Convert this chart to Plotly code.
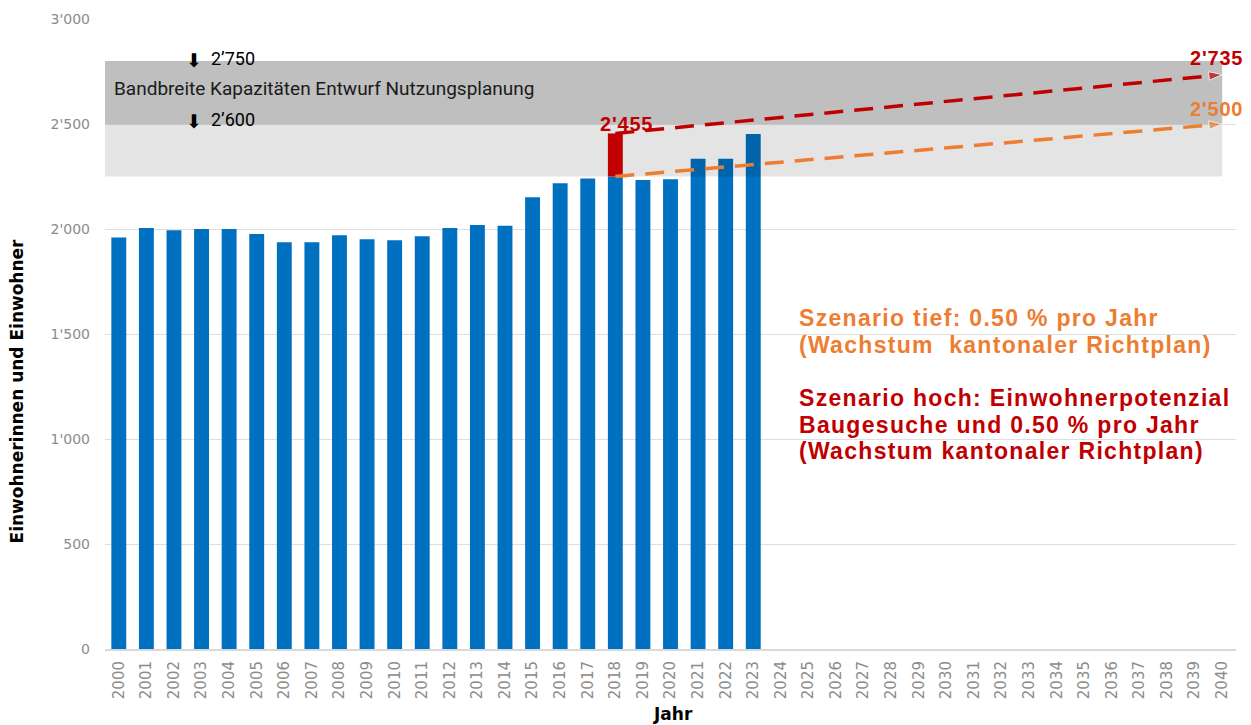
import plotly.graph_objects as go

# Einwohnerzahlen 2000-2023
years = list(range(2000, 2024))
population = [1960, 2005, 1994, 2000, 2000, 1976, 1937, 1937, 1970, 1951, 1946, 1965,
              2005, 2019, 2016, 2151, 2218, 2241, 2250, 2233, 2237, 2335, 2335, 2452]

axis_years = list(range(2000, 2041))

# Szenarien (Start 2018, Ende 2040)
scen_years = [2018, 2040]
scen_low = [2250, 2500]
scen_high = [2455, 2735]

# Bandbreite Kapazitäten
band_light = [2250, 2500]
band_dark = [2500, 2800]

y_ticks = [0, 500, 1000, 1500, 2000, 2500, 3000]
y_ticktext = ["0", "500", "1'000", "1'500", "2'000", "2'500", "3'000"]

scenario_low_lines = ["Szenario tief: 0.50 % pro Jahr", "(Wachstum  kantonaler Richtplan)"]
scenario_high_lines = ["Szenario hoch: Einwohnerpotenzial", "Baugesuche und 0.50 % pro Jahr",
                       "(Wachstum kantonaler Richtplan)"]

BLUE = "#0070c0"
RED = "#c00000"
RED_BAR = "#d80000"
ORANGE = "#ed7d31"
AXIS_FONT = "DejaVu Sans"
LABEL_FONT = "Liberation Sans"

fig = go.Figure()

fig.add_trace(go.Bar(x=years, y=population, marker=dict(color=BLUE, line=dict(width=0)),
                     width=0.54, hoverinfo="skip"))

# Zusatzpotenzial Baugesuche (2018)
fig.add_trace(go.Bar(x=[2018], y=[scen_high[0] - scen_low[0]], base=[scen_low[0]],
                     marker=dict(color=RED_BAR, line=dict(width=0)), width=0.54, hoverinfo="skip"))

x0, x1 = 1999.5, 2040
fig.add_trace(go.Scatter(x=[x0, x1, x1, x0, x0],
                         y=[band_dark[0], band_dark[0], band_dark[1], band_dark[1], band_dark[0]],
                         fill="toself", fillcolor="rgba(0,0,0,0.25)", mode="none", hoverinfo="skip"))
fig.add_trace(go.Scatter(x=[x0, x1, x1, x0, x0],
                         y=[band_light[0], band_light[0], band_light[1], band_light[1], band_light[0]],
                         fill="toself", fillcolor="rgba(0,0,0,0.105)", mode="none", hoverinfo="skip"))

for vals, col in [(scen_low, ORANGE), (scen_high, RED)]:
    fig.add_trace(go.Scatter(
        x=scen_years, y=vals, mode="lines+markers",
        line=dict(color=col, width=3.5, dash="19px,11px"),
        marker=dict(symbol=["circle", "arrow"], size=[10, 14], angleref="previous", color=col),
        hoverinfo="skip"))

PLOT_LEFT, PLOT_W = 105, 1131
PLOT_TOP, PLOT_H = 19, 630


def paper_y(py):
    """Vertical pixel position (from top of the page) -> paper coordinate."""
    return 1 - (py - PLOT_TOP) / PLOT_H


def spaced(txt, px=1.6):
    return "<span style='letter-spacing:%spx'>%s</span>" % (px, txt)


annotations = [
    dict(x=2040, y=scen_high[1], xref="x", yref="y", text="<b>%s</b>" % spaced("2'735", 0.8),
         showarrow=False, xanchor="right", yanchor="bottom", xshift=23, yshift=4,
         font=dict(family=LABEL_FONT, size=20, color=RED)),
    dict(x=2040, y=scen_low[1], xref="x", yref="y", text="<b>%s</b>" % spaced("2'500", 0.8),
         showarrow=False, xanchor="right", yanchor="bottom", xshift=23, yshift=2,
         font=dict(family=LABEL_FONT, size=20, color=ORANGE)),
    dict(x=2018, y=scen_high[0], xref="x", yref="y", text="<b>%s</b>" % spaced("2'455", 0.8),
         showarrow=False, xanchor="center", yanchor="bottom", xshift=11, yshift=-4,
         font=dict(family=LABEL_FONT, size=20, color=RED)),
    dict(x=0.006, y=2670, xref="paper", yref="y", text="Bandbreite Kapazitäten Entwurf Nutzungsplanung",
         showarrow=False, xanchor="left", yanchor="middle",
         font=dict(family="Roboto", size=19, color="#1a1a1a")),
    dict(x=-0.078, y=0.41, xref="paper", yref="paper", text="<b>Einwohnerinnen und Einwohner</b>",
         textangle=-90, showarrow=False, xanchor="center", yanchor="middle",
         font=dict(family=AXIS_FONT, size=17, color="#000000")),
    dict(x=0.502, y=-0.103, xref="paper", yref="paper", text="<b>Jahr</b>",
         showarrow=False, xanchor="center", yanchor="middle",
         font=dict(family=AXIS_FONT, size=17, color="#000000")),
]

# Markierungen 2'750 / 2'600
for yv, label in [(2808, "2’750"), (2518, "2’600")]:
    annotations.append(dict(x=2003, y=yv, xref="x", yref="y", text="⬇", showarrow=False,
                            xanchor="center", yanchor="middle", xshift=-8, yshift=-1,
                            font=dict(family="DejaVu Sans", size=19, color="#000000")))
    annotations.append(dict(x=2003, y=yv, xref="x", yref="y", text=label, showarrow=False,
                            xanchor="left", yanchor="middle", xshift=7, yshift=1,
                            font=dict(family="Roboto", size=18, color="#000000")))

# Szenario-Beschreibungen
line_pos = [318, 345, 398, 425, 451]
for (txt, col), py in zip([(t, ORANGE) for t in scenario_low_lines] +
                          [(t, RED) for t in scenario_high_lines], line_pos):
    annotations.append(dict(x=(797 - PLOT_LEFT) / PLOT_W, y=paper_y(py),
                            xref="x domain", yref="paper",
                            text="<b>%s</b>" % spaced(txt, 1.3), showarrow=False,
                            xanchor="left", yanchor="middle",
                            font=dict(family=LABEL_FONT, size=23, color=col)))

fig.update_layout(
    width=1251, height=725,
    margin=dict(l=PLOT_LEFT, r=15, t=PLOT_TOP, b=76),
    paper_bgcolor="white", plot_bgcolor="white",
    showlegend=False, barmode="overlay",
    annotations=annotations,
    xaxis=dict(range=[1999.5, 2040.5], tickmode="array", tickvals=axis_years,
               ticktext=[str(y) for y in axis_years], tickangle=-90,
               tickfont=dict(family=AXIS_FONT, size=15, color="#8c8c8c"),
               showgrid=False, showline=True, linecolor="#d9d9d9", linewidth=2,
               zeroline=False, ticks="", ticklabelstandoff=4),
    yaxis=dict(range=[0, 3000], tickmode="array", tickvals=y_ticks, ticktext=y_ticktext,
               tickfont=dict(family=AXIS_FONT, size=14, color="#8c8c8c"),
               showgrid=True, gridcolor="#dedede", gridwidth=1, zeroline=False,
               showline=False, ticks="", ticklabelstandoff=14),
)

fig.write_html("out.html")
